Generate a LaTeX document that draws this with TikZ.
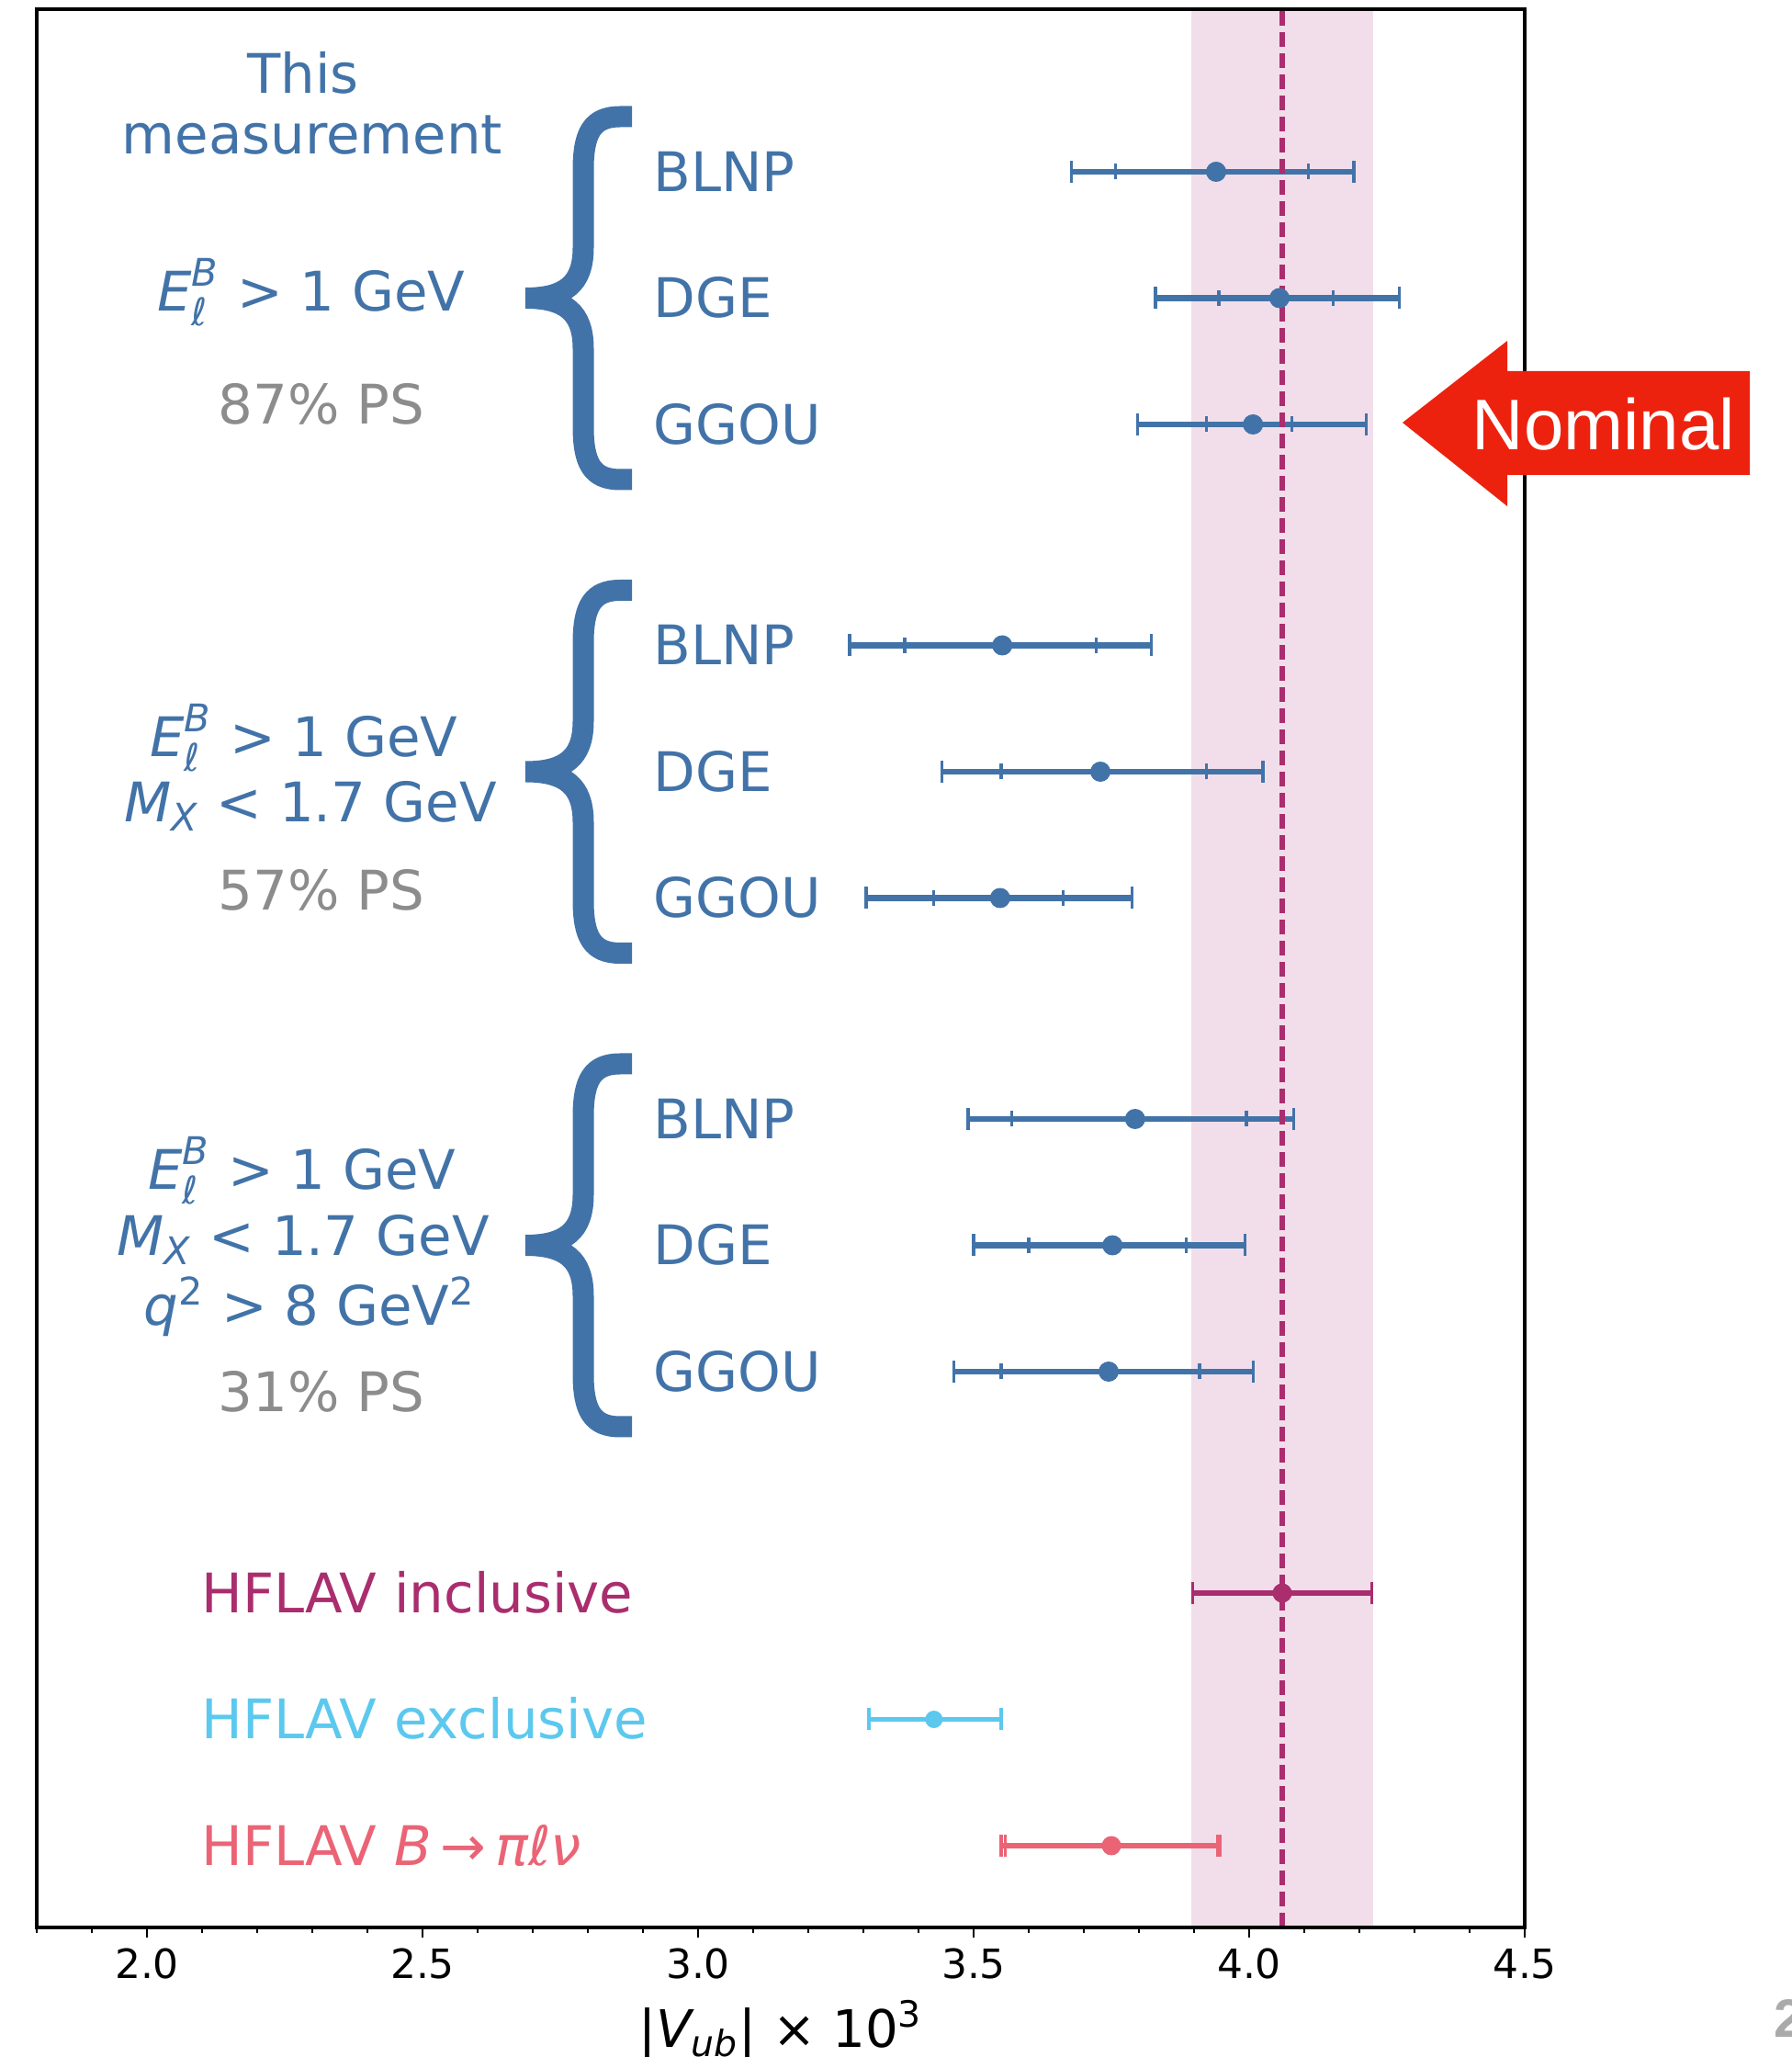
\documentclass[tikz,border=0pt]{standalone}
\usepackage{fontspec}
\setmainfont{DejaVu Sans}
\newfontfamily\nomfont{Liberation Sans}
\usepackage{xcolor}
\usepackage{tikz}
\usetikzlibrary{positioning,calc}
\definecolor{MeasBlue}{RGB}{66,115,168}
\definecolor{InclPurple}{RGB}{170,45,110}
\definecolor{BandPink}{RGB}{242,222,234}
\definecolor{ExclCyan}{RGB}{92,200,238}
\definecolor{PiRed}{RGB}{234,100,118}
\definecolor{PSGrey}{RGB}{140,140,140}
\definecolor{NomRed}{RGB}{236,34,15}
\definecolor{PageGrey}{RGB}{170,170,170}

\newcommand{\lblsize}{\fontsize{16.9}{20}\selectfont}
\newcommand{\scrsize}{\fontsize{11.8}{12}\selectfont}
\newcommand{\ticksize}{\fontsize{12.5}{15}\selectfont}
\newcommand{\axsize}{\fontsize{16}{19}\selectfont}
\newcommand{\axscr}{\fontsize{11.2}{12}\selectfont}
\newcommand{\mvar}[1]{\mbox{\itshape #1}}
\newcommand{\EcutB}{$\mvar{E}^{\mbox{\scrsize\itshape B}}_{\mbox{\scrsize\itshape ℓ}}$}
\newcommand{\MXcut}{$\mvar{M}_{\mbox{\scrsize\itshape X}}$}
\newcommand{\sqpow}{$^{\mbox{\scrsize 2}}$}

\begin{document}
\begin{tikzpicture}[
    % texte
    modellbl/.style={anchor=base west, inner sep=0pt, text=MeasBlue, font=\lblsize},
    cutlbl/.style={anchor=base, inner sep=0pt, text=MeasBlue, font=\lblsize},
    pslbl/.style={anchor=base, inner sep=0pt, text=PSGrey, font=\lblsize},
    hflavlbl/.style={anchor=base west, inner sep=0pt, font=\lblsize},
    ticklbl/.style={anchor=base, inner sep=0pt, font=\ticksize},
    % barres d'erreur
    barline/.style={line width=1.9pt},
    barcap/.style={line width=0.9pt},
    bracestroke/.style={draw=MeasBlue, line width=0.23cm, line cap=butt, line join=round},
    nomline/.style={draw=InclPurple, line width=0.055cm, dash pattern=on 0.16cm off 0.07cm}
]
    \useasboundingbox (0,0) rectangle (19.51,22.39);

    % --- DONNEES ---
    \def\measrows{20.52/3.677/3.757/3.940/4.107/4.190, 19.145/3.830/3.945/4.055/4.153/4.272,
        17.77/3.797/3.922/4.007/4.078/4.212, 15.365/3.275/3.375/3.552/3.722/3.823,
        13.99/3.443/3.550/3.730/3.923/4.025, 12.615/3.305/3.428/3.548/3.662/3.788,
        10.21/3.490/3.569/3.793/3.995/4.081, 8.835/3.500/3.600/3.752/3.886/3.993,
        7.46/3.464/3.550/3.745/3.910/4.007}

    \begin{scope}[x=6cm, xshift=-10.4cm]
        % Bande HFLAV inclusive
        \fill[BandPink] (3.895,1.41) rectangle (4.225,22.29);

        % Barres de cette mesure
        \foreach \yy/\lo/\ilo/\val/\ihi/\hi in \measrows {
            \draw[barline, MeasBlue] (\lo,\yy) -- (\hi,\yy);
            \draw[barcap, MeasBlue] (\lo,\yy-0.12) -- (\lo,\yy+0.12) (\hi,\yy-0.12) -- (\hi,\yy+0.12);
            \draw[barcap, MeasBlue] (\ilo,\yy-0.085) -- (\ilo,\yy+0.085) (\ihi,\yy-0.085) -- (\ihi,\yy+0.085);
        }

        % Barres HFLAV
        \draw[barline, InclPurple] (3.897,5.05) -- (4.223,5.05);
        \draw[barcap, InclPurple] (3.897,4.93) -- (3.897,5.17) (4.223,4.93) -- (4.223,5.17);
        \draw[line width=1.4pt, ExclCyan] (3.310,3.675) -- (3.550,3.675);
        \draw[barcap, ExclCyan] (3.310,3.555) -- (3.310,3.795) (3.550,3.555) -- (3.550,3.795);
        \draw[line width=1.6pt, PiRed] (3.550,2.30) -- (3.948,2.30);
        \draw[barcap, PiRed] (3.550,2.18) -- (3.550,2.42) (3.558,2.18) -- (3.558,2.42)
            (3.942,2.18) -- (3.942,2.42) (3.948,2.18) -- (3.948,2.42);

        % Valeur centrale HFLAV
        \draw[nomline] (4.06,1.41) -- (4.06,22.29);

        % Points
        \foreach \yy/\lo/\ilo/\val/\ihi/\hi in \measrows
            \fill[MeasBlue] (\val,\yy) circle (0.11cm);
        \fill[InclPurple] (4.06,5.05) circle (0.105cm);
        \fill[ExclCyan] (3.428,3.675) circle (0.095cm);
        \fill[PiRed] (3.75,2.30) circle (0.105cm);

        % --- AXES ---
        \draw[line width=0.9pt] (1.8,1.41) rectangle (4.5,22.29);
        \foreach \k in {18,...,45}
            \draw[line width=0.7pt] (\k/10,1.41) -- ++(0,-0.06);
        \foreach \k in {20,25,...,45}
            \draw[line width=0.8pt] (\k/10,1.41) -- ++(0,-0.11);
        \foreach \v [count=\i] in {2.0,2.5,3.0,3.5,4.0,4.5}
            \node[ticklbl] (tk\i) at (\v,0.85) {\v};
        \node[anchor=base, inner sep=0pt, font=\axsize] (vubaxis) at (3.15,0.10)
            {|\mvar{V}$_{\mbox{\axscr\itshape ub}}$| × 10$^{\mbox{\axscr 3}}$};
    \end{scope}

    % --- ACCOLADES ---
    \foreach \ym in {19.145,13.99,8.835}
        \draw[bracestroke] (6.88,\ym+1.975) -- (6.75,\ym+1.975)
            .. controls (6.45,\ym+1.975) and (6.35,\ym+1.80) .. (6.35,\ym+1.40)
            -- (6.35,\ym+0.55) .. controls (6.35,\ym+0.15) and (6.15,\ym) .. (5.72,\ym)
            (5.72,\ym) .. controls (6.15,\ym) and (6.35,\ym-0.15) .. (6.35,\ym-0.55)
            -- (6.35,\ym-1.40) .. controls (6.35,\ym-1.80) and (6.45,\ym-1.975) .. (6.75,\ym-1.975)
            -- (6.88,\ym-1.975);

    % --- MODELES ---
    \foreach \yy/\mdl [count=\i] in {20.52/BLNP, 19.145/DGE, 17.77/GGOU,
            15.365/BLNP, 13.99/DGE, 12.615/GGOU, 10.21/BLNP, 8.835/DGE, 7.46/GGOU}
        \node[modellbl] (mdl\i) at (7.11,\yy-0.215) {\mdl};

    % --- COUPURES ---
    \node[cutlbl] (this) at (3.30,21.37) {This};
    \node[cutlbl] (meas) at (3.40,20.71) {measurement};
    \node[cutlbl] (cutA) at (3.39,19.00) {\EcutB{} > 1 GeV};
    \node[pslbl] (psA) at (3.50,17.77) {87\% PS};

    \node[cutlbl] (cutBa) at (3.31,14.15) {\EcutB{} > 1 GeV};
    \node[cutlbl] (cutBb) at (3.38,13.44) {\MXcut{} < 1.7 GeV};
    \node[pslbl] (psB) at (3.50,12.48) {57\% PS};

    \node[cutlbl] (cutCa) at (3.29,9.44) {\EcutB{} > 1 GeV};
    \node[cutlbl] (cutCb) at (3.30,8.72) {\MXcut{} < 1.7 GeV};
    \node[cutlbl] (cutCc) at (3.37,7.96) {$\mvar{q}$\sqpow{} > 8 GeV\sqpow};
    \node[pslbl] (psC) at (3.50,7.02) {31\% PS};

    % --- HFLAV ---
    \node[hflavlbl, text=InclPurple] (incl) at (2.19,4.835) {HFLAV inclusive};
    \node[hflavlbl, text=ExclCyan] (excl) at (2.19,3.46) {HFLAV exclusive};
    \node[hflavlbl, text=PiRed] (bpi) at (2.19,2.085) {HFLAV \textit{B}\,→\,\textit{πℓν}};

    % --- FLECHE NOMINAL ---
    \fill[NomRed] (15.27,17.79) -- (16.41,18.68) -- (16.41,18.35) -- (19.05,18.35)
        -- (19.05,17.22) -- (16.41,17.22) -- (16.41,16.88) -- cycle;
    \node[anchor=base, inner sep=0pt, text=white, font=\nomfont\fontsize{22.2}{26}\selectfont]
        (nominal) at (17.46,17.49) {Nominal};

    % numero de page
    \node[anchor=base west, inner sep=0pt, text=PageGrey, font=\nomfont\bfseries\fontsize{16.7}{20}\selectfont]
        (pagenum) at (19.31,0.22) {2};
\end{tikzpicture}
\end{document}
